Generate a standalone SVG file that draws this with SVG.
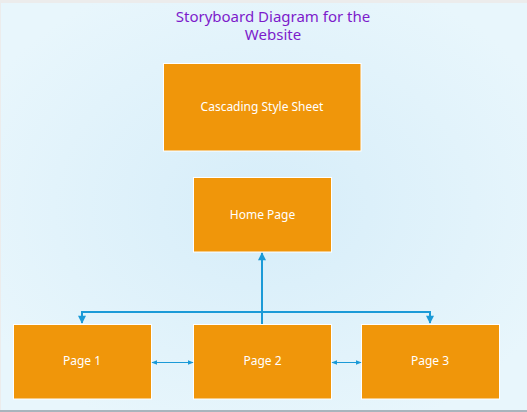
<svg xmlns="http://www.w3.org/2000/svg" width="527" height="412" viewBox="0 0 527 412">
<defs>
<radialGradient id="bg" cx="50%" cy="50%" r="60%">
<stop offset="0" stop-color="#d6edf9"/>
<stop offset="1" stop-color="#e8f6fc"/>
</radialGradient>
<marker id="bigu" viewBox="0 0 10 10" refX="9" refY="5" markerWidth="9" markerHeight="8" orient="auto" markerUnits="userSpaceOnUse">
<path d="M0,0 L10,5 L0,10 z" fill="#1b9ad7"/>
</marker>
<marker id="sm" viewBox="0 0 10 10" refX="9" refY="5" markerWidth="6" markerHeight="6" orient="auto-start-reverse" markerUnits="userSpaceOnUse">
<path d="M0,1 L10,5 L0,9 z" fill="#1b9ad7"/>
</marker>
</defs>
<style>
.box{fill:#f0960a;stroke:#ffffff;stroke-width:1}
.lbl{font-family:"Noto Sans","Open Sans",sans-serif;font-size:12px;fill:#ffffff;text-anchor:middle}
.title{font-family:"Noto Sans","Open Sans",sans-serif;font-size:15px;fill:#7d1bcb;text-anchor:middle}
.c{fill:none;stroke:#1b9ad7;stroke-width:2}
.cs{fill:none;stroke:#1b9ad7;stroke-width:1}
</style>
<rect x="0" y="0" width="527" height="412" fill="#ececec"/>
<rect x="1" y="3" width="526" height="407" fill="url(#bg)"/>
<rect x="0" y="410" width="527" height="2" fill="#a9b4bd"/>
<g id="title">
<text class="title" x="273" y="22">Storyboard Diagram for the</text>
<text class="title" x="273" y="40">Website</text>
</g>
<g id="css">
<rect class="box" x="163.5" y="63.5" width="197.5" height="87.5"/>
<text class="lbl" x="262" y="111">Cascading Style Sheet</text>
</g>
<g id="home">
<rect class="box" x="193.5" y="177.5" width="138" height="74.5"/>
<text class="lbl" x="262.5" y="219">Home Page</text>
</g>
<g id="page1">
<rect class="box" x="13.5" y="324.5" width="138" height="74.5"/>
<text class="lbl" x="82" y="365">Page 1</text>
</g>
<g id="page2">
<rect class="box" x="193.5" y="324.5" width="138" height="74.5"/>
<text class="lbl" x="262.5" y="365">Page 2</text>
</g>
<g id="page3">
<rect class="box" x="361.5" y="324.5" width="138" height="74.5"/>
<text class="lbl" x="430" y="365">Page 3</text>
</g>
<g id="connectors">
<path class="c" d="M262,324 L262,253" marker-end="url(#bigu)"/>
<path class="c" d="M262,312 L82,312 L82,323" marker-end="url(#bigu)"/>
<path class="c" d="M262,312 L430,312 L430,323" marker-end="url(#bigu)"/>
<path class="cs" d="M152,362.5 L193,362.5" marker-start="url(#sm)" marker-end="url(#sm)"/>
<path class="cs" d="M332,362.5 L361,362.5" marker-start="url(#sm)" marker-end="url(#sm)"/>
</g>
</svg>
